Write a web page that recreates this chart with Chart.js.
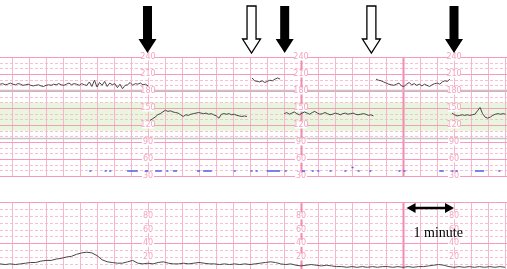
<!DOCTYPE html>
<html>
<head>
<meta charset="utf-8">
<script src="https://cdn.jsdelivr.net/npm/chart.js@4.4.1/dist/chart.umd.min.js"></script>
<style>
html, body { margin: 0; padding: 0; background: #fff; }
#wrap { position: relative; width: 507px; height: 269px; overflow: hidden; }
#fhr { position: absolute; left: 0; top: 0; width: 507px; height: 185px; }
#toco { position: absolute; left: 0; top: 195px; width: 507px; height: 74px; }
</style>
</head>
<body>
<div id="wrap">
    <canvas id="fhr" width="507" height="185"></canvas>
    <canvas id="toco" width="507" height="74"></canvas>
</div>
<script>
// time in minutes, heart rate in bpm, uterine activity in units
var sampleStep = 0.05;

var fhrAStart = 0.10;
var fhrA = [192, 193, 191, 192, 194, 192, 191, 193, 192, 190,
    191, 192, 190, 189, 190, 191, 189, 188, 190, 191,
    190, 192, 191, 193, 191, 190, 192, 194, 191, 193,
    192, 190, 193, 191, 190, 196, 188, 199, 187, 195,
    190, 197, 188, 194, 191, 193, 186, 192, 184, 190,
    191, 195, 190, 193, 192, 194, 191, 192, 189];

var fhrBStart = 3.04;
var fhrB = [128, 131, 134, 138, 140, 143, 146, 144, 145, 143,
    142, 141, 138, 135, 138, 137, 139, 140, 141, 142,
    141, 140, 141, 139, 140, 138, 136, 132, 139, 140,
    139, 140, 138, 139, 137, 136, 135, 136, 135];

var fhrCStart = 5.04;
var fhrC = [203, 198, 197, 196, 198, 195, 197, 199, 198, 201, 203, 201];

var fhrDStart = 5.67;
var fhrD = [140, 142, 139, 141, 143, 140, 138, 141, 143, 141,
    139, 142, 144, 141, 139, 140, 142, 140, 138, 139,
    141, 140, 138, 140, 141, 139, 140, 141, 139, 138,
    139, 140, 139, 137, 138, 136];

var fhrEStart = 7.47;
var fhrE = [201, 199, 198, 196, 194, 192, 191, 190, 192, 194,
    189, 188, 192, 195, 191, 193, 190, 192, 189, 192,
    190, 188, 191, 193, 194, 192, 196, 198, 197, 201];

var fhrFStart = 8.96;
var fhrF = [141, 138, 136, 137, 138, 137, 138, 137, 138, 139,
    145, 151, 140, 134, 132, 134, 137, 139, 140, 139, 140, 139];

// fetal movement marks
var moveStart = [1.85, 2.15, 2.24, 2.59, 2.94, 3.14, 3.36, 3.49, 3.96, 4.08,
    4.68, 5.01, 5.11, 5.33, 5.68, 6.02, 6.21, 6.32, 6.56, 6.85,
    6.99, 7.11, 7.34, 7.91, 8.01, 8.71, 8.95, 9.03, 9.41, 9.87];
var moveEnd = [1.89, 2.19, 2.28, 2.80, 3.00, 3.27, 3.40, 3.57, 4.02, 4.25,
    4.72, 5.05, 5.15, 5.59, 5.72, 6.08, 6.25, 6.36, 6.60, 6.89,
    7.03, 7.15, 7.38, 7.95, 8.05, 8.80, 8.99, 9.07, 9.59, 9.91];
var moveLevel = 39;

// uterine activity
var tocoStart = 0.1;
var tocoStep = 0.1;
var toco = [10, 9, 10, 9, 10, 11, 12, 12, 14, 15,
    15, 17, 18, 20, 21, 24, 26, 27, 26, 22,
    16, 13, 12, 11, 11, 13, 15, 11, 10, 11,
    10, 12, 13, 11, 10, 10, 11, 10, 11, 12,
    11, 10, 10, 9, 10, 9, 10, 9, 10, 9,
    10, 11, 12, 13, 12, 10, 9, 10, 8, 7,
    8, 9, 8, 7, 8, 7, 6, 6, 5, 6,
    5, 6, 5, 6, 5, 6, 6, 5, 6, 5,
    6, 5, 6, 6, 7, 8, 9, 8, 6, 5,
    6, 5, 6, 5, 6, 5, 6, 5, 6, 5];

// paper scale
var fhrLevels = [30, 40, 50, 60, 70, 80, 90, 100, 110, 120, 130, 140, 150, 160, 170, 180, 190, 200, 210, 220, 230, 240];
var fhrMajor = [30, 60, 90, 120, 150, 180, 210, 240];
var fhrLabels = ['240', '210', '180', '150', '120', '90', '60', '30'];
var fhrLabelValues = [240, 210, 180, 150, 120, 90, 60, 30];
var fhrGrey = [181, 96];
var normalBand = [110, 160];

var tocoLevels = [10, 20, 30, 40, 50, 60, 70, 80, 90, 100];
var tocoMajor = [40, 100];
var tocoLabels = ['80', '60', '40', '20'];
var tocoLabelValues = [80, 60, 40, 20];

var labelMinutes = [3, 6, 9];
var boldMinutes = [6, 8];
var gridMinutes = [];
for (var g = 1; g <= 30; g++) {
    gridMinutes.push(g / 3);
}

var switchArrows = [2.99, 5.68, 9.0];
var openArrows = [5.03, 7.38];
var scaleBar = [8.07, 9.0];

var xMin = 0.098;
var xMax = 10.039;

function toPoints(start, step, values) {
    return values.map(function (v, i) {
        return {x: start + i * step, y: v};
    });
}

function movePoints() {
    var pts = [];
    for (var i = 0; i < moveStart.length; i++) {
        var lvl = moveLevel;
        if (moveStart[i] === 6.99) lvl = 45;
        pts.push({x: moveStart[i], y: lvl});
        pts.push({x: moveEnd[i], y: lvl});
        pts.push({x: moveEnd[i], y: null});
    }
    return pts;
}

var paperPlugin = {
    id: 'paper',
    beforeDatasetsDraw: function (chart, args, opts) {
        var ctx = chart.ctx;
        var xs = chart.scales.x;
        var ys = chart.scales.y;
        var w = chart.width;
        var top = ys.getPixelForValue(opts.top);
        var bottom = ys.getPixelForValue(opts.bottom);
        ctx.save();

        if (opts.band) {
            var b1 = ys.getPixelForValue(opts.band[1]);
            var b0 = ys.getPixelForValue(opts.band[0]);
            ctx.fillStyle = '#e8f6dd';
            ctx.fillRect(0, b1, w, b0 - b1);
        }

        // minor horizontal lines
        ctx.lineWidth = 1;
        ctx.strokeStyle = '#f8c0d4';
        ctx.setLineDash([3, 2]);
        opts.levels.forEach(function (v) {
            if (opts.major.indexOf(v) >= 0) return;
            var y = Math.round(ys.getPixelForValue(v)) + 0.5;
            ctx.beginPath();
            ctx.moveTo(0, y);
            ctx.lineTo(w, y);
            ctx.stroke();
        });
        ctx.setLineDash([]);

        // vertical lines
        gridMinutes.forEach(function (m) {
            var x = Math.round(xs.getPixelForValue(m)) + 0.5;
            var bold = boldMinutes.some(function (b) { return Math.abs(m - b) < 0.01; });
            ctx.strokeStyle = bold ? '#f18bb1' : '#f7b6cd';
            ctx.lineWidth = bold ? 2 : 1;
            ctx.beginPath();
            ctx.moveTo(x, top);
            ctx.lineTo(x, bottom);
            ctx.stroke();
        });

        // major horizontal lines
        ctx.strokeStyle = '#f59bbb';
        ctx.lineWidth = 1;
        opts.major.forEach(function (v) {
            var y = Math.round(ys.getPixelForValue(v)) + 0.5;
            ctx.beginPath();
            ctx.moveTo(0, y);
            ctx.lineTo(w, y);
            ctx.stroke();
        });

        // grey reference lines
        ctx.strokeStyle = '#c4c4c4';
        ctx.lineWidth = 1.5;
        (opts.grey || []).forEach(function (v) {
            var y = ys.getPixelForValue(v);
            ctx.beginPath();
            ctx.moveTo(0, y);
            ctx.lineTo(w, y);
            ctx.stroke();
        });

        // scale labels printed on the paper
        ctx.font = '8px "DejaVu Sans"';
        ctx.textAlign = 'center';
        ctx.textBaseline = 'middle';
        labelMinutes.forEach(function (m) {
            var x = xs.getPixelForValue(m);
            opts.labelValues.forEach(function (v, i) {
                var y = ys.getPixelForValue(v);
                ctx.fillStyle = '#ffffff';
                ctx.fillRect(x - 6, y - 3.5, 12, 7);
                ctx.fillStyle = '#f4a3c1';
                ctx.fillText(opts.labels[i], x, y);
            });
        });
        ctx.restore();
    }
};

function drawArrow(ctx, x, filled) {
    ctx.beginPath();
    ctx.moveTo(x - 4.5, 6);
    ctx.lineTo(x + 4.5, 6);
    ctx.lineTo(x + 4.5, 39);
    ctx.lineTo(x + 9, 39);
    ctx.lineTo(x, 53);
    ctx.lineTo(x - 9, 39);
    ctx.lineTo(x - 4.5, 39);
    ctx.closePath();
    if (filled) {
        ctx.fillStyle = '#000000';
        ctx.fill();
    } else {
        ctx.fillStyle = '#ffffff';
        ctx.fill();
        ctx.strokeStyle = '#000000';
        ctx.lineWidth = 1.3;
        ctx.stroke();
    }
}

var arrowPlugin = {
    id: 'arrows',
    afterDraw: function (chart) {
        var ctx = chart.ctx;
        var xs = chart.scales.x;
        ctx.save();
        switchArrows.forEach(function (m) {
            drawArrow(ctx, xs.getPixelForValue(m), true);
        });
        openArrows.forEach(function (m) {
            drawArrow(ctx, xs.getPixelForValue(m), false);
        });
        ctx.restore();
    }
};

var scaleBarPlugin = {
    id: 'scaleBar',
    afterDraw: function (chart) {
        var ctx = chart.ctx;
        var xs = chart.scales.x;
        var x0 = xs.getPixelForValue(scaleBar[0]);
        var x1 = xs.getPixelForValue(scaleBar[1]);
        var y = 13;
        ctx.save();
        ctx.strokeStyle = '#000000';
        ctx.fillStyle = '#000000';
        ctx.lineWidth = 2.5;
        ctx.beginPath();
        ctx.moveTo(x0 + 6, y);
        ctx.lineTo(x1 - 6, y);
        ctx.stroke();
        ctx.beginPath();
        ctx.moveTo(x0, y);
        ctx.lineTo(x0 + 9, y - 5);
        ctx.lineTo(x0 + 9, y + 5);
        ctx.closePath();
        ctx.fill();
        ctx.beginPath();
        ctx.moveTo(x1, y);
        ctx.lineTo(x1 - 9, y - 5);
        ctx.lineTo(x1 - 9, y + 5);
        ctx.closePath();
        ctx.fill();
        ctx.font = '14px "Liberation Serif"';
        ctx.textAlign = 'left';
        ctx.textBaseline = 'alphabetic';
        ctx.fillText('1 minute', x0 + 7, 42);
        ctx.restore();
    }
};

function baseOptions(yMin, yMax, paperOpts) {
    return {
        responsive: false,
        animation: false,
        events: [],
        layout: {padding: 0},
        scales: {
            x: {type: 'linear', min: xMin, max: xMax, display: false},
            y: {type: 'linear', min: yMin, max: yMax, display: false}
        },
        plugins: {
            legend: {display: false},
            tooltip: {enabled: false},
            paper: paperOpts
        },
        elements: {
            point: {radius: 0},
            line: {tension: 0}
        }
    };
}

function traceSet(points) {
    return {
        data: points,
        borderColor: '#474747',
        borderWidth: 1,
        pointRadius: 0,
        spanGaps: false
    };
}

var fhrChart = new Chart(document.getElementById('fhr').getContext('2d'), {
    type: 'line',
    data: {
        datasets: [
            traceSet(toPoints(fhrAStart, sampleStep, fhrA)),
            traceSet(toPoints(fhrBStart, sampleStep, fhrB)),
            traceSet(toPoints(fhrCStart, sampleStep, fhrC)),
            traceSet(toPoints(fhrDStart, sampleStep, fhrD)),
            traceSet(toPoints(fhrEStart, sampleStep, fhrE)),
            traceSet(toPoints(fhrFStart, sampleStep, fhrF)),
            {
                data: movePoints(),
                borderColor: '#5060e6',
                borderWidth: 1.5,
                pointRadius: 0,
                spanGaps: false
            }
        ]
    },
    options: baseOptions(14.1, 340.6, {
        top: 240, bottom: 30,
        levels: fhrLevels, major: fhrMajor,
        labels: fhrLabels, labelValues: fhrLabelValues,
        grey: fhrGrey, band: normalBand
    }),
    plugins: [paperPlugin, arrowPlugin]
});

var tocoChart = new Chart(document.getElementById('toco').getContext('2d'), {
    type: 'line',
    data: {
        datasets: [traceSet(toPoints(tocoStart, tocoStep, toco))]
    },
    options: baseOptions(2.5, 110.5, {
        top: 100, bottom: 2.5,
        levels: tocoLevels, major: tocoMajor,
        labels: tocoLabels, labelValues: tocoLabelValues
    }),
    plugins: [paperPlugin, scaleBarPlugin]
});
</script>
</body>
</html>
